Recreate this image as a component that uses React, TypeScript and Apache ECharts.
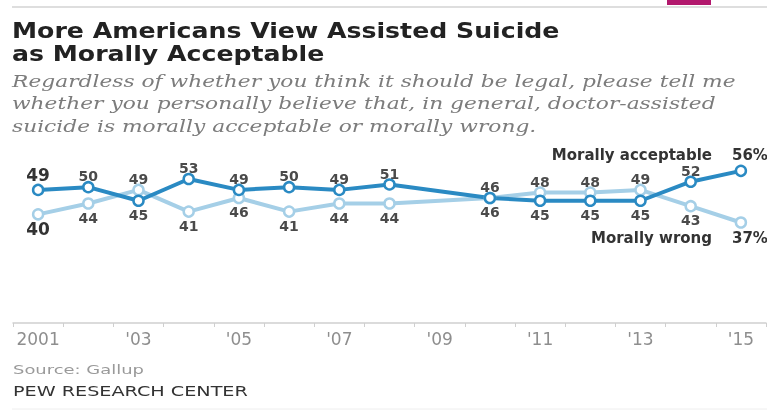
import React, { useEffect, useRef } from "react";
import * as echarts from "echarts";

const years = ["2001", "2002", "2003", "2004", "2005", "2006", "2007", "2008", "2009", "2010", "2011", "2012", "2013", "2014", "2015"];
const acceptable: (number | null)[] = [49, 50, 45, 53, 49, 50, 49, 51, null, 46, 45, 45, 45, 52, 56];
const wrong: (number | null)[] = [40, 44, 49, 41, 46, 41, 44, 44, null, 46, 48, 48, 49, 43, 37];
const acceptableName = "Morally acceptable";
const wrongName = "Morally wrong";

const titleLines = ["More Americans View Assisted Suicide", "as Morally Acceptable"];
const subtitleLines = [
  "Regardless of whether you think it should be legal, please tell me",
  "whether you personally believe that, in general, doctor-assisted",
  "suicide is morally acceptable or morally wrong.",
];
const sourceText = "Source: Gallup";
const brandText = "PEW RESEARCH CENTER";

const DARK = "#2a8ac3";
const LIGHT = "#a5cfe7";
const SANS = "'DejaVu Sans', 'Liberation Sans', Arial, sans-serif";

function buildData(values: (number | null)[], other: (number | null)[], isAcceptable: boolean, name: string) {
  const last = values.length - 1;
  return values.map((v, i) => {
    if (v == null) return "-";
    const o = other[i] as number;
    const above = isAcceptable ? v >= o : v > o;
    if (i === 0) {
      return {
        value: v,
        label: {
          show: true,
          position: above ? "top" : "bottom",
          distance: 0,
          fontSize: 17,
          lineHeight: 17,
          fontWeight: "bold",
          color: "#333",
        },
      };
    }
    if (i === last) {
      return {
        value: v,
        label: {
          show: true,
          position: above ? "top" : "bottom",
          distance: above ? 2.5 : 2,
          align: "right",
          offset: [27, 0],
          formatter: `{n|${name}}{v|${v}%}`,
          rich: {
            n: { fontSize: 15, lineHeight: 14, fontWeight: "bold", color: "#333", fontFamily: SANS },
            v: { fontSize: 15, lineHeight: 14, fontWeight: "bold", color: "#333", fontFamily: SANS, padding: [0, 0, 0, 20] },
          },
        },
      };
    }
    return {
      value: v,
      label: {
        show: true,
        position: above ? "top" : "bottom",
        distance: above ? 0 : 1.5,
        offset: above ? [0, 2] : [0, 0],
      },
    };
  });
}

export default function App() {
  const ref = useRef<HTMLDivElement>(null);
  useEffect(() => {
    if (!ref.current) return;
    const chart = echarts.init(ref.current, undefined, { renderer: "svg" });
    const labelBase = { fontSize: 14, lineHeight: 13, color: "#4a4a4a", fontFamily: SANS, fontWeight: "bold" as const };
    chart.setOption({
      animation: false,
      grid: { left: 13, right: 1, top: 160, bottom: 88, containLabel: false },
      xAxis: {
        type: "category",
        data: years,
        boundaryGap: true,
        axisLine: { lineStyle: { color: "#cfcfcf", width: 1.5 } },
        axisTick: { show: true, interval: 0, length: 4, lineStyle: { color: "#cfcfcf" } },
        axisLabel: {
          interval: 1,
          color: "#8e8e8e",
          fontSize: 17,
          fontFamily: SANS,
          margin: 7,
          formatter: (y: string) => (y === years[0] ? y : "'" + y.slice(2)),
        },
      },
      yAxis: { type: "value", min: 0, max: 60, show: false },
      series: [
        {
          name: wrongName,
          type: "line",
          data: buildData(wrong, acceptable, false, wrongName),
          connectNulls: true,
          symbol: "circle",
          symbolSize: 10,
          lineStyle: { color: LIGHT, width: 4 },
          itemStyle: { color: "#fff", borderColor: LIGHT, borderWidth: 2.5 },
          label: { ...labelBase },
        },
        {
          name: acceptableName,
          type: "line",
          data: buildData(acceptable, wrong, true, acceptableName),
          connectNulls: true,
          symbol: "circle",
          symbolSize: 10,
          lineStyle: { color: DARK, width: 4 },
          itemStyle: { color: "#fff", borderColor: DARK, borderWidth: 2.5 },
          label: { ...labelBase },
        },
      ],
      graphic: [
        { type: "line", shape: { x1: 12, y1: 7, x2: 767, y2: 7 }, style: { stroke: "#dedede", lineWidth: 2 } },
        { type: "rect", shape: { x: 667, y: 0, width: 44, height: 5 }, style: { fill: "#b2186d" } },
        ...titleLines.map((t, i) => ({
          type: "text",
          x: 12,
          y: 30 + i * 23,
          scaleX: 1.2,
          style: { text: t, font: `bold 21px ${SANS}`, fill: "#222", verticalAlign: "middle" },
        })),
        ...subtitleLines.map((t, i) => ({
          type: "text",
          x: 12,
          y: 81 + i * 22.5,
          scaleX: 1.28,
          style: { text: t, font: `italic 17px 'DejaVu Serif', serif`, fill: "#7c7c7c", verticalAlign: "middle" },
        })),
        { type: "text", x: 13, y: 369, scaleX: 1.38, style: { text: sourceText, font: `13px ${SANS}`, fill: "#9a9a9a", verticalAlign: "middle" } },
        { type: "text", x: 13, y: 391, scaleX: 1.37, style: { text: brandText, font: `14px ${SANS}`, fill: "#333", verticalAlign: "middle" } },
        { type: "line", shape: { x1: 12, y1: 409, x2: 767, y2: 409 }, style: { stroke: "#eeeeee", lineWidth: 1 } },
      ],
    });
    return () => chart.dispose();
  }, []);
  return <div ref={ref} style={{ position: "fixed", left: 0, top: 0, width: 767, height: 411 }} />;
}
